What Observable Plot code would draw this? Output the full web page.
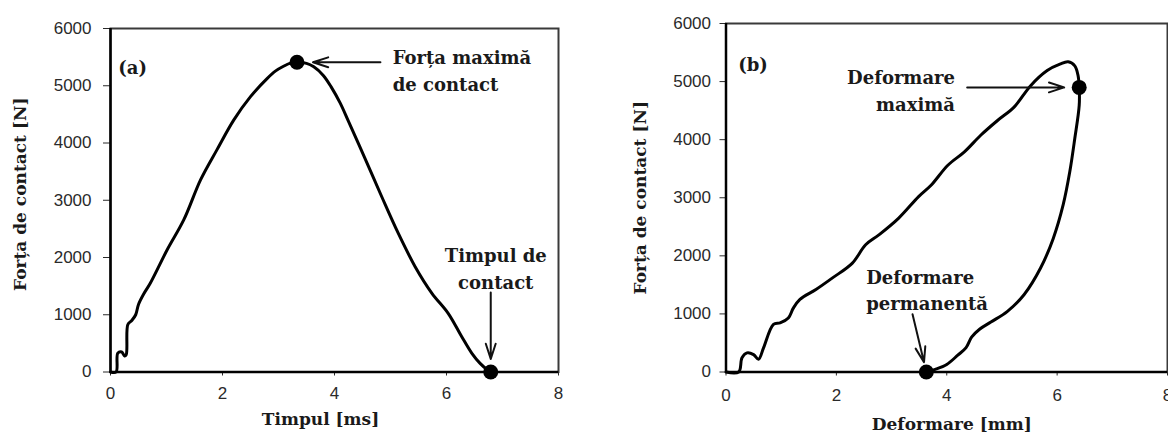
<!DOCTYPE html>
<html><head><meta charset="utf-8">
<script src="https://cdn.jsdelivr.net/npm/d3@7"></script>
<script src="https://cdn.jsdelivr.net/npm/@observablehq/plot@0.6"></script>
<style>
html,body{margin:0;padding:0;background:#fff;}
body{width:1168px;height:436px;overflow:hidden;position:relative;}
#a,#b{position:absolute;top:0;height:436px;}
#a{left:0;width:584px;} #b{left:584px;width:600px;}
#a svg,#b svg{display:block;overflow:visible;max-width:none !important;}
</style></head><body>
<div id="a"></div><div id="b"></div>
<script>
// ---- data ----
const xTicks = [0, 2, 4, 6, 8];
const yTicks = [0, 1000, 2000, 3000, 4000, 5000, 6000];

// panel (a): force vs time
const timeA  = [0, 0.1, 0.13, 0.2, 0.25, 0.28, 0.31, 0.38, 0.45, 0.5, 0.6, 0.71, 1.01, 1.31, 1.61, 1.9, 2.2, 2.5, 2.8, 2.95, 3.09, 3.2, 3.33, 3.5, 3.63, 3.8, 3.94, 4.1, 4.24, 4.54, 4.84, 5.14, 5.44, 5.74, 6.03, 6.27, 6.45, 6.6, 6.74, 6.79];
const forceA = [0, 0, 330, 350, 280, 300, 830, 900, 1000, 1180, 1375, 1550, 2130, 2660, 3360, 3880, 4400, 4810, 5130, 5260, 5340, 5390, 5410, 5390, 5330, 5180, 4980, 4700, 4400, 3740, 3070, 2420, 1840, 1375, 1025, 620, 330, 150, 30, 0];
const keyTimeA  = [3.33, 6.79];
const keyForceA = [5410, 0];

// panel (b): force vs deformation (loading then unloading)
const defB   = [0, 0.23, 0.29, 0.38, 0.5, 0.59, 0.68, 0.86, 0.98, 1.13, 1.22, 1.34, 1.63, 1.93, 2.29, 2.53, 2.77, 3.13, 3.49, 3.72, 4.02, 4.32, 4.62, 4.92, 5.22, 5.52, 5.82, 6.05, 6.2, 6.32, 6.38, 6.4, 6.4, 6.32, 6.23, 6.11, 5.93, 5.7, 5.4, 5.1, 4.8, 4.6, 4.45, 4.35, 4.2, 4.0, 3.79, 3.63];
const forceB = [0, 0, 245, 330, 300, 220, 415, 820, 845, 930, 1100, 1250, 1420, 1620, 1875, 2190, 2360, 2650, 3020, 3220, 3560, 3790, 4080, 4330, 4560, 4930, 5190, 5300, 5340, 5270, 5100, 4900, 4590, 4020, 3450, 2880, 2300, 1790, 1330, 1045, 860, 740, 600, 420, 290, 130, 45, 0];
const keyDefB   = [6.4, 3.63];
const keyForceB = [4900, 0];

// texts
const yTitle = "Forța de contact [N]";
const xTitleA = "Timpul [ms]";
const xTitleB = "Deformare [mm]";
const tagA = "(a)", tagB = "(b)";
const noteA1 = "Forța maximă\nde contact";
const noteA2 = "Timpul de\ncontact";
const noteB1 = "Deformare\nmaximă";
const noteB2 = "Deformare\npermanentă";

// ---- styling ----
const serif = "'DejaVu Serif', 'Liberation Serif', serif";
const sans = "'Liberation Sans', Arial, sans-serif";
const ink = "#1a1a1a";

function panel({width, mL, mR, mT, mB, xs, ys, kx, ky, xPad, yPad, ySize, xTitle, xdx, xdy, ydx, ydy, extra}) {
  const rows = xs.map((v, i) => ({x: v, y: ys[i]}));
  const keys = kx.map((v, i) => ({x: v, y: ky[i]}));
  return Plot.plot({
    width, height: 436,
    marginLeft: mL, marginRight: mR, marginTop: mT, marginBottom: mB,
    style: {fontFamily: sans, fontSize: "17px", color: "#2a2a2a", background: "white"},
    x: {domain: [0, 8], ticks: xTicks, tickFormat: d => String(d)},
    y: {domain: [0, 6000], ticks: yTicks, tickFormat: d => String(d)},
    marks: [
      Plot.frame({stroke: "#3a3a3a", strokeWidth: 2}),
      Plot.axisX({ticks: xTicks, tickSize: 4, tickPadding: xPad, label: null, tickFormat: d => String(d), fontSize: 17}),
      Plot.axisY({ticks: yTicks, tickSize: ySize, tickPadding: yPad, label: null, tickFormat: d => String(d), fontSize: 17}),
      Plot.ruleX([0], {stroke: "black", strokeWidth: 2.5}),
      Plot.ruleY([0], {stroke: "black", strokeWidth: 2.5}),
      Plot.line(rows, {x: "x", y: "y", stroke: "black", strokeWidth: 3, strokeLinejoin: "round", curve: "catmull-rom"}),
      Plot.dot(keys, {x: "x", y: "y", r: 7.5, fill: "black", stroke: "none"}),
      ...extra(keys),
      Plot.text([xTitle], {frameAnchor: "bottom", lineAnchor: "top", dx: xdx, dy: xdy, text: d => d,
        fontFamily: serif, fontWeight: "bold", fontSize: 17, fill: ink}),
      Plot.text([yTitle], {frameAnchor: "left", rotate: -90, lineAnchor: "top", textAnchor: "middle", dx: ydx, dy: ydy, text: d => d,
        fontFamily: serif, fontWeight: "bold", fontSize: 17, fill: ink})
    ]
  });
}

const noteStyle = {fontFamily: serif, fontWeight: "bold", fontSize: 18, fill: ink, lineHeight: 1.5};
const arrowStyle = {stroke: "#111", strokeWidth: 2, headLength: 12, headAngle: 36};

document.getElementById("a").append(panel({
  width: 584, mL: 110, mR: 26, mT: 28, mB: 64.5,
  xs: timeA, ys: forceA, kx: keyTimeA, ky: keyForceA,
  xPad: 11, yPad: 12, ySize: 7,
  xTitle: xTitleA, xdx: -14, xdy: 41, ydx: -97, ydy: -6,
  extra: keys => [
    Plot.text([tagA], {x: 0.14, y: 5360, text: d => d, textAnchor: "start", ...noteStyle}),
    Plot.text([noteA1], {x: 5.04, y: 5300, text: d => d, textAnchor: "start", lineAnchor: "middle", ...noteStyle}),
    Plot.text([noteA2], {x: 6.88, y: 1835, text: d => d, textAnchor: "middle", lineAnchor: "middle", ...noteStyle}),
    Plot.arrow([keys[0]], {x1: 4.82, y1: d => d.y, x2: "x", y2: "y", insetEnd: 16, ...arrowStyle}),
    Plot.arrow([keys[1]], {x1: "x", y1: 1390, x2: "x", y2: "y", insetEnd: 13, ...arrowStyle})
  ]
}));

document.getElementById("b").append(panel({
  width: 600, mL: 141.5, mR: 17, mT: 23, mB: 64.5,
  xs: defB, ys: forceB, kx: keyDefB, ky: keyForceB,
  xPad: 13, yPad: 9, ySize: 6,
  xTitle: xTitleB, xdx: 5, xdy: 46, ydx: -92.5, ydy: 0,
  extra: keys => [
    Plot.text([tagB], {x: 0.22, y: 5335, text: d => d, textAnchor: "start", ...noteStyle}),
    Plot.text([noteB1], {x: 4.15, y: 4880, text: d => d, textAnchor: "end", lineAnchor: "middle", ...noteStyle}),
    Plot.text([noteB2], {x: 2.54, y: 1440, text: d => d, textAnchor: "start", lineAnchor: "middle", ...noteStyle}),
    Plot.arrow([keys[0]], {x1: 4.37, y1: d => d.y, x2: "x", y2: "y", insetEnd: 15, ...arrowStyle}),
    Plot.arrow([keys[1]], {x1: 3.38, y1: 995, x2: "x", y2: "y", insetEnd: 10, ...arrowStyle})
  ]
}));
</script>
</body></html>
